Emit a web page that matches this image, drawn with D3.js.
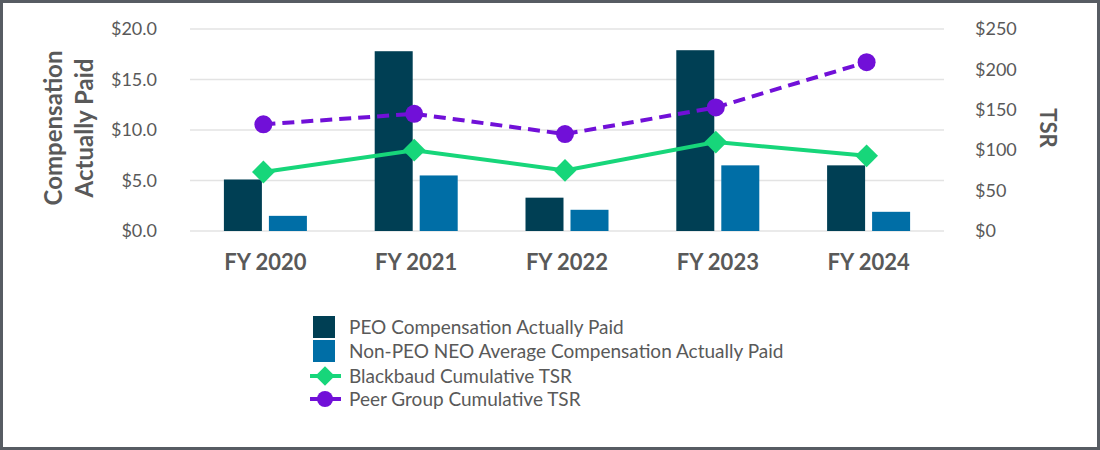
<!DOCTYPE html>
<html>
<head>
<meta charset="utf-8">
<script src="https://cdn.jsdelivr.net/npm/d3@7"></script>
<style>
  body { margin: 0; background: #fff; }
  svg { display: block; font-family: Lato, "Open Sans", sans-serif; }
</style>
</head>
<body>
<div id="chart"></div>
<script>
const width = 1100;
const height = 450;
const font = "Lato, 'Open Sans', sans-serif";

// Data
const years = ["FY 2020", "FY 2021", "FY 2022", "FY 2023", "FY 2024"];
const peoCap = [5.1, 17.8, 3.3, 17.9, 6.5];
const neoCap = [1.5, 5.5, 2.1, 6.5, 1.9];
const blackbaudTsr = [73, 100, 75, 110, 93];
const peerTsr = [132, 145, 120, 153, 209];
const leftTicks = [0, 5, 10, 15, 20];
const rightTicks = [0, 50, 100, 150, 200, 250];

const colors = {
    peo: "#003f54",
    neo: "#006ea6",
    bb: "#17d67a",
    peer: "#7110d8",
    text: "#595959",
    grid: "#e3e3e3"
};

const margin = { top: 29, right: 156, bottom: 219, left: 190 };

const svg = d3.select("#chart")
    .append("svg")
    .attr("viewBox", [0, 0, width, height])
    .attr("width", width)
    .attr("height", height);

// outer frame
svg.append("rect")
    .attr("x", 1.5).attr("y", 1.5)
    .attr("width", width - 3).attr("height", height - 3)
    .attr("fill", "#fff")
    .attr("stroke", "#575c63")
    .attr("stroke-width", 3);

const x = d3.scaleBand()
    .domain(years)
    .range([margin.left, width - margin.right]);

const yLeft = d3.scaleLinear()
    .domain([0, 20])
    .range([height - margin.bottom, margin.top]);

const yRight = d3.scaleLinear()
    .domain([0, 250])
    .range([height - margin.bottom, margin.top]);

// gridlines
svg.append("g")
    .selectAll("line")
    .data(leftTicks)
    .join("line")
    .attr("x1", margin.left)
    .attr("x2", width - margin.right)
    .attr("y1", d => yLeft(d))
    .attr("y2", d => yLeft(d))
    .attr("stroke", colors.grid)
    .attr("stroke-width", 1.5);

// left axis
const leftAxis = svg.append("g")
    .attr("transform", `translate(${margin.left - 30},0)`)
    .call(d3.axisLeft(yLeft).tickValues(leftTicks).tickSize(0).tickFormat(d => "$" + d.toFixed(1)));
leftAxis.select(".domain").remove();
leftAxis.attr("font-family", font);
leftAxis.selectAll("text")
    .attr("fill", colors.text)
    .attr("font-size", 18);

// right axis
const rightAxis = svg.append("g")
    .attr("transform", `translate(${width - margin.right + 28},0)`)
    .call(d3.axisRight(yRight).tickValues(rightTicks).tickSize(0).tickFormat(d => "$" + d));
rightAxis.select(".domain").remove();
rightAxis.attr("font-family", font);
rightAxis.selectAll("text")
    .attr("fill", colors.text)
    .attr("font-size", 18);

// x axis labels
const xAxis = svg.append("g")
    .attr("transform", `translate(0,${height - margin.bottom + 20})`)
    .call(d3.axisBottom(x).tickSize(0));
xAxis.select(".domain").remove();
xAxis.attr("font-family", font);
xAxis.selectAll("text")
    .attr("fill", colors.text)
    .attr("font-size", 22)
    .attr("font-weight", "bold");

// axis titles
svg.append("text")
    .attr("transform", "translate(62,128) rotate(-90)")
    .attr("text-anchor", "middle")
    .attr("fill", colors.text)
    .attr("font-size", 24)
    .attr("font-weight", "bold")
    .selectAll("tspan")
    .data(["Compensation", "Actually Paid"])
    .join("tspan")
    .attr("x", 0)
    .attr("dy", (d, i) => i === 0 ? 0 : 31)
    .text(d => d);

svg.append("text")
    .attr("transform", "translate(1040,128) rotate(90)")
    .attr("text-anchor", "middle")
    .attr("fill", colors.text)
    .attr("font-size", 22)
    .attr("font-weight", "bold")
    .text("TSR");

// bars
const barW = 38;
const barGap = 7;

svg.append("g")
    .selectAll("rect")
    .data(years)
    .join("rect")
    .attr("x", d => x(d) + x.bandwidth() / 2 - barW - barGap / 2)
    .attr("y", (d, i) => yLeft(peoCap[i]))
    .attr("width", barW)
    .attr("height", (d, i) => yLeft(0) - yLeft(peoCap[i]))
    .attr("fill", colors.peo);

svg.append("g")
    .selectAll("rect")
    .data(years)
    .join("rect")
    .attr("x", d => x(d) + x.bandwidth() / 2 + barGap / 2)
    .attr("y", (d, i) => yLeft(neoCap[i]))
    .attr("width", barW)
    .attr("height", (d, i) => yLeft(0) - yLeft(neoCap[i]))
    .attr("fill", colors.neo);

// lines
const cx = d => x(d) + x.bandwidth() / 2 - 2;

const line = vals => d3.line()
    .x(d => cx(d))
    .y((d, i) => yRight(vals[i]))(years);

svg.append("path")
    .attr("d", line(blackbaudTsr))
    .attr("fill", "none")
    .attr("stroke", colors.bb)
    .attr("stroke-width", 4);

svg.append("path")
    .attr("d", line(peerTsr))
    .attr("fill", "none")
    .attr("stroke", colors.peer)
    .attr("stroke-width", 4)
    .attr("stroke-dasharray", "12,7");

svg.append("g")
    .selectAll("path")
    .data(years)
    .join("path")
    .attr("transform", (d, i) => `translate(${cx(d)},${yRight(blackbaudTsr[i])}) rotate(45)`)
    .attr("d", d3.symbol().type(d3.symbolSquare).size(260))
    .attr("fill", colors.bb);

svg.append("g")
    .selectAll("circle")
    .data(years)
    .join("circle")
    .attr("cx", d => cx(d))
    .attr("cy", (d, i) => yRight(peerTsr[i]))
    .attr("r", 9)
    .attr("fill", colors.peer);

// legend
const legend = svg.append("g").attr("transform", "translate(313,316)");
const legendItems = [
    { label: "PEO Compensation Actually Paid", type: "bar", color: colors.peo },
    { label: "Non-PEO NEO Average Compensation Actually Paid", type: "bar", color: colors.neo },
    { label: "Blackbaud Cumulative TSR", type: "diamond", color: colors.bb },
    { label: "Peer Group Cumulative TSR", type: "circle", color: colors.peer }
];
const rowY = [11, 35, 60, 83];

legendItems.forEach((item, i) => {
    const g = legend.append("g").attr("transform", `translate(0,${rowY[i]})`);
    if (item.type === "bar") {
        g.append("rect")
            .attr("x", 0).attr("y", -11)
            .attr("width", 22).attr("height", 22)
            .attr("fill", item.color);
    } else {
        g.append("line")
            .attr("x1", -3).attr("x2", 28)
            .attr("stroke", item.color)
            .attr("stroke-width", 4);
        if (item.type === "diamond") {
            g.append("path")
                .attr("transform", "translate(12,0) rotate(45)")
                .attr("d", d3.symbol().type(d3.symbolSquare).size(190))
                .attr("fill", item.color);
        } else {
            g.append("circle")
                .attr("cx", 12).attr("r", 8)
                .attr("fill", item.color);
        }
    }
    g.append("text")
        .attr("x", 36)
        .attr("dy", "0.35em")
        .attr("fill", colors.text)
        .attr("font-size", 19)
        .text(item.label);
});
</script>
</body>
</html>
